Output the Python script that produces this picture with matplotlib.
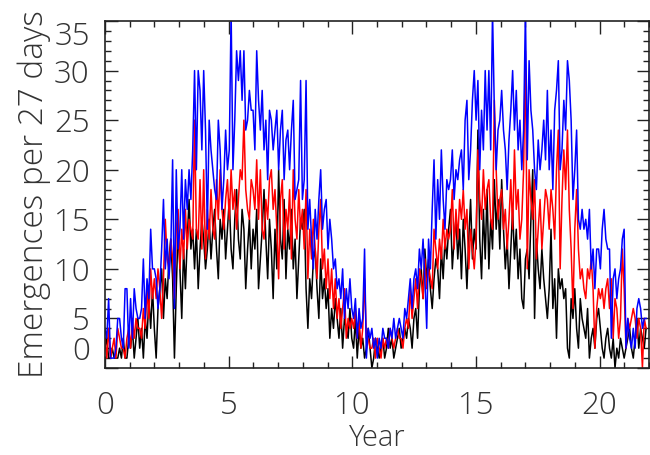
import numpy as np
import matplotlib
matplotlib.use("Agg")
import matplotlib.pyplot as plt
from matplotlib.ticker import MultipleLocator

# --- DATA (emergences per 27-day rotation) ---
CADENCE_DAYS = 27

black_counts = [
    2, 3, 1, 1, 2, 1, 1, 1, 2, 1, 3, 1, 1, 3, 2, 4, 1, 3, 5, 2, 4, 1, 5, 3, 7, 4, 8,
    4, 1, 6, 8, 10, 5, 9, 7, 11, 13, 9, 1, 8, 14, 10, 5, 12, 8, 13, 17, 12, 14, 10, 14, 8, 12, 15,
    13, 10, 12, 15, 11, 14, 16, 12, 9, 15, 13, 16, 11, 14, 17, 12, 10, 15, 18, 13, 11, 16, 14, 8, 12, 15, 10,
    14, 12, 16, 8, 11, 14, 18, 13, 9, 15, 12, 7, 14, 10, 20, 13, 11, 17, 9, 14, 12, 16, 10, 13, 7, 11, 15,
    14, 16, 8, 4, 9, 7, 11, 12, 8, 5, 11, 7, 9, 6, 8, 3, 6, 4, 7, 5, 3, 6, 2, 5, 4, 3, 6,
    3, 2, 5, 1, 4, 2, 3, 1, 2, 4, 2, 0, 1, 3, 2, 1, 2, 3, 1, 2, 4, 2, 3, 1, 2, 3, 4,
    2, 3, 4, 3, 5, 4, 2, 5, 6, 3, 8, 10, 7, 12, 9, 11, 8, 6, 9, 11, 10, 7, 12, 9, 13, 11, 14,
    16, 10, 13, 15, 11, 14, 9, 15, 12, 8, 13, 17, 11, 14, 12, 24, 13, 9, 16, 11, 18, 10, 15, 12, 19, 14, 17,
    12, 19, 14, 10, 13, 8, 12, 16, 11, 14, 9, 12, 7, 6, 11, 12, 9, 15, 20, 5, 13, 10, 8, 12, 9, 7, 5,
    8, 14, 6, 9, 3, 10, 8, 9, 7, 8, 2, 1, 7, 5, 8, 4, 2, 7, 5, 4, 3, 6, 1, 3, 4, 2, 5,
    6, 4, 2, 1, 3, 4, 2, 1, 3, 0, 2, 1, 3, 2, 1, 2, 3, 4, 2, 1, 3, 5, 2, 4, 3, 2, 4,
]

red_counts = [
    3, 1, 4, 1, 2, 3, 1, 4, 3, 2, 2, 1, 3, 4, 2, 5, 3, 5, 4, 4, 3, 6, 4, 8, 5, 10, 7,
    9, 7, 10, 8, 5, 9, 15, 11, 10, 13, 11, 7, 14, 16, 10, 14, 11, 16, 12, 15, 14, 13, 25, 14, 13, 19, 12,
    20, 11, 16, 13, 18, 14, 13, 19, 15, 20, 16, 14, 17, 19, 15, 20, 16, 18, 14, 17, 20, 19, 25, 18, 16, 15, 19,
    18, 16, 21, 15, 20, 14, 13, 17, 15, 19, 20, 16, 18, 14, 9, 17, 19, 12, 16, 14, 18, 11, 20, 15, 13, 18, 14,
    16, 12, 18, 9, 14, 11, 15, 12, 9, 14, 17, 10, 12, 8, 11, 7, 10, 6, 9, 5, 7, 4, 6, 8, 3, 5, 4,
    5, 4, 6, 3, 5, 2, 4, 9, 3, 3, 2, 2, 3, 1, 3, 2, 1, 3, 2, 3, 2, 4, 3, 2, 3, 4, 3,
    3, 2, 4, 5, 4, 8, 5, 7, 9, 6, 10, 9, 7, 11, 8, 10, 9, 8, 14, 12, 10, 13, 11, 15, 12, 14, 13,
    14, 18, 12, 16, 13, 17, 15, 18, 14, 16, 10, 14, 12, 10, 13, 22, 17, 15, 20, 16, 18, 19, 15, 14, 27, 20, 15,
    17, 18, 14, 16, 12, 15, 19, 14, 22, 16, 18, 13, 15, 20, 32, 10, 20, 17, 15, 19, 11, 14, 17, 12, 15, 18, 17,
    14, 18, 16, 13, 20, 24, 10, 17, 22, 18, 24, 16, 12, 6, 14, 18, 12, 9, 10, 8, 7, 10, 9, 11, 8, 2, 6,
    8, 7, 8, 6, 8, 9, 6, 9, 3, 7, 6, 3, 5, 12, 8, 2, 5, 4, 5, 6, 5, 3, 5, 4, 0, 5, 4,
]

blue_counts = [
    4, 3, 7, 1, 1, 1, 2, 5, 5, 3, 2, 8, 8, 2, 7, 3, 8, 6, 5, 5, 6, 11, 5, 9, 7, 14, 10,
    10, 9, 6, 8, 12, 17, 10, 13, 9, 12, 21, 6, 20, 12, 14, 20, 13, 19, 16, 20, 17, 22, 30, 20, 30, 28, 22,
    30, 24, 14, 25, 22, 20, 18, 17, 25, 22, 16, 19, 24, 20, 22, 36, 20, 25, 32, 29, 32, 27, 32, 24, 25, 28, 26,
    26, 22, 32, 27, 24, 28, 22, 25, 19, 26, 25, 22, 24, 26, 20, 24, 26, 19, 23, 24, 20, 24, 27, 17, 18, 19, 29,
    17, 19, 29, 14, 17, 13, 10, 16, 13, 17, 20, 14, 16, 17, 12, 15, 13, 10, 11, 8, 9, 7, 10, 5, 8, 6, 9,
    6, 5, 7, 3, 6, 4, 5, 12, 1, 4, 3, 4, 2, 3, 1, 3, 2, 4, 3, 3, 2, 4, 3, 5, 3, 4, 5,
    4, 3, 6, 5, 7, 9, 6, 9, 10, 8, 12, 10, 13, 9, 4, 13, 10, 16, 21, 13, 19, 15, 22, 17, 14, 19, 18,
    19, 22, 17, 20, 19, 21, 22, 18, 25, 27, 19, 22, 27, 30, 25, 29, 20, 26, 22, 30, 24, 30, 22, 36, 26, 20, 24,
    25, 28, 24, 22, 18, 23, 26, 30, 24, 28, 22, 25, 20, 24, 36, 21, 31, 26, 24, 20, 18, 23, 20, 22, 25, 21, 28,
    20, 24, 18, 26, 28, 31, 20, 22, 27, 24, 31, 29, 25, 17, 20, 24, 15, 14, 16, 14, 15, 13, 16, 10, 12, 8, 12,
    12, 10, 14, 16, 13, 12, 12, 3, 9, 10, 7, 9, 10, 13, 14, 2, 5, 3, 2, 4, 2, 6, 7, 6, 4, 5, 5,
]

x_ticks = [0, 5, 10, 15, 20]
y_ticks = [0, 5, 10, 15, 20, 25, 30, 35]

# --- PLOT ---
TEXT_COLOR = "#333333"
FAMILY = ["Open Sans", "Roboto", "DejaVu Sans"]
TICK_FONT = dict(family=FAMILY, weight="light", size=22.5, color=TEXT_COLOR)
LABEL_FONT = dict(family=FAMILY, weight="light", size=24, color=TEXT_COLOR)
XLABEL_FONT = dict(family=FAMILY, weight="light", size=21, color=TEXT_COLOR)

years = np.arange(len(black_counts)) * CADENCE_DAYS / 365.25

fig = plt.figure(figsize=(6.5, 4.55), dpi=100)
ax = fig.add_axes([0.1615, 0.1912, 0.837, 0.7626])

ax.plot(years, black_counts, color="black", lw=1.1)
ax.plot(years, red_counts, color="#ff0000", lw=1.1)
ax.plot(years, blue_counts, color="#0000ff", lw=1.1)

ax.set_xlim(0, 22)
ax.set_ylim(0, 35)

ax.set_xticks(x_ticks)
ax.set_xticklabels([str(v) for v in x_ticks], fontdict=TICK_FONT)
ax.set_yticks(y_ticks)
ax.set_yticklabels([str(v) for v in y_ticks], fontdict=TICK_FONT)
ax.xaxis.set_minor_locator(MultipleLocator(1))
ax.yaxis.set_minor_locator(MultipleLocator(1))

ax.tick_params(which="both", direction="in", top=True, right=True, width=1, color="#222222")
ax.tick_params(which="major", length=9)
ax.tick_params(which="minor", length=4)
ax.tick_params(axis="x", which="major", pad=16)
ax.tick_params(axis="y", which="major", pad=11)

# end labels sit inside the axis range like in the original
for lab in ax.get_yticklabels():
    if lab.get_text() == "0":
        lab.set_va("bottom")
    elif lab.get_text() == "35":
        lab.set_va("top")

for sp in ax.spines.values():
    sp.set_linewidth(1.2)
    sp.set_color("#222222")

ax.set_xlabel("Year", fontdict=XLABEL_FONT, labelpad=1)
ax.set_ylabel("Emergences per 27 days", fontdict=LABEL_FONT, labelpad=2)

fig.savefig("out.png", dpi=100)
